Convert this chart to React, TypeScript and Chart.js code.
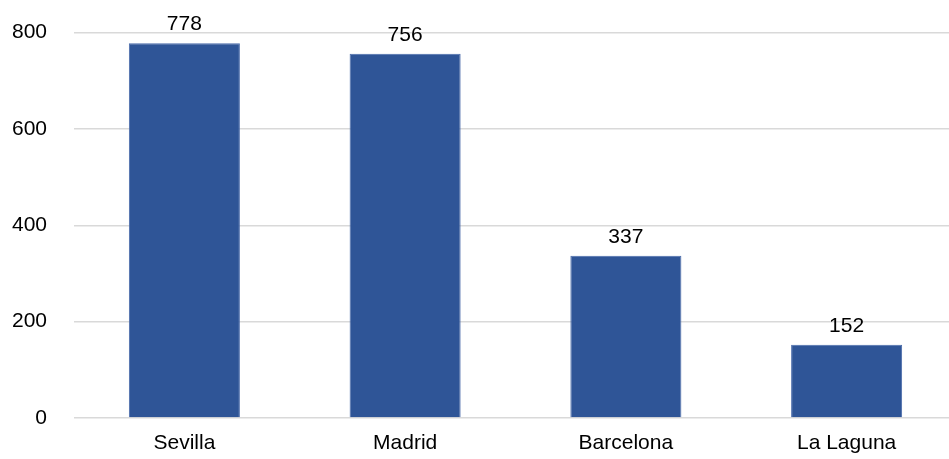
import React, { useEffect, useRef } from "react";
import { Chart, registerables } from "chart.js";

Chart.register(...registerables);

const categories = ["Sevilla", "Madrid", "Barcelona", "La Laguna"];
const values = [778, 756, 337, 152];
const yTicks = [0, 200, 400, 600, 800];

const FONT = "'Liberation Sans', Arial, sans-serif";

const valueLabels = {
  id: "valueLabels",
  afterDatasetsDraw(chart: any) {
    const ctx = chart.ctx;
    const meta = chart.getDatasetMeta(0);
    ctx.save();
    ctx.font = `21px ${FONT}`;
    ctx.fillStyle = "#000000";
    ctx.textAlign = "center";
    ctx.textBaseline = "alphabetic";
    meta.data.forEach((bar: any, i: number) => {
      ctx.fillText(String(values[i]), bar.x, bar.y - 13);
    });
    ctx.restore();
  },
};

export default function App() {
  const ref = useRef<HTMLCanvasElement | null>(null);

  useEffect(() => {
    if (!ref.current) return;
    const chart = new Chart(ref.current, {
      type: "bar",
      data: {
        labels: categories,
        datasets: [
          {
            data: values,
            backgroundColor: "#2F5597",
            borderColor: "#4A6BAA",
            borderWidth: 1,
            categoryPercentage: 1,
            barPercentage: 0.503,
          },
        ],
      },
      options: {
        responsive: false,
        animation: false,
        devicePixelRatio: 1,
        layout: { padding: { top: 26, right: 1, left: 0, bottom: 0 } },
        plugins: {
          legend: { display: false },
          tooltip: { enabled: false },
        },
        scales: {
          x: {
            grid: { display: false, drawTicks: false },
            border: { display: false },
            ticks: {
              color: "#000000",
              font: { family: FONT, size: 21 },
              padding: 13,
            },
            afterFit: (scale: any) => {
              scale.height = 41;
            },
          },
          y: {
            min: 0,
            max: 800,
            afterBuildTicks: (scale: any) => {
              scale.ticks = yTicks.map((v) => ({ value: v }));
            },
            grid: { color: "#D9D9D9", lineWidth: 1.5, drawTicks: false },
            border: { display: false },
            ticks: {
              color: "#000000",
              font: { family: FONT, size: 21 },
              padding: 27,
            },
            afterFit: (scale: any) => {
              scale.width = 74;
            },
          },
        },
      },
      plugins: [valueLabels],
    });
    return () => chart.destroy();
  }, []);

  return (
    <div
      style={{
        position: "fixed",
        left: 0,
        top: 0,
        width: 949,
        height: 459,
        overflow: "hidden",
        background: "#ffffff",
      }}
    >
      <canvas
        ref={ref}
        width={958}
        height={466}
        style={{ display: "block", marginTop: -7 }}
      />
    </div>
  );
}
